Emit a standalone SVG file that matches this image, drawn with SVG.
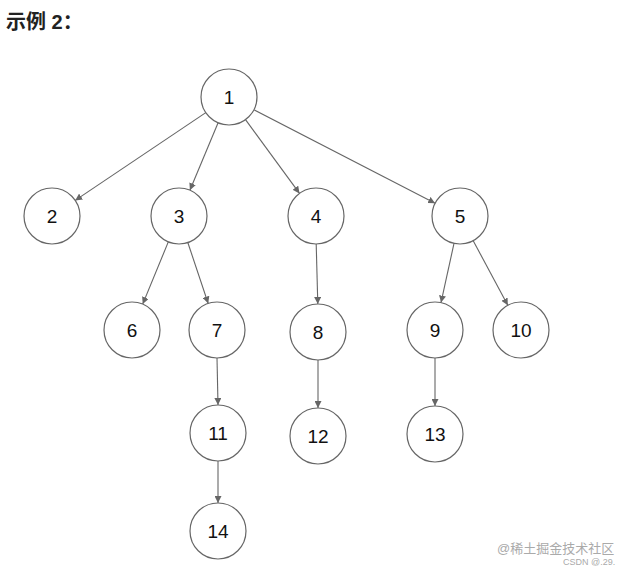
<svg xmlns="http://www.w3.org/2000/svg" width="632" height="572" viewBox="0 0 632 572">
<style>
.n circle{fill:#fff;stroke:#666;stroke-width:1.2}
.n text{font-family:"Liberation Sans",Arial,sans-serif;font-size:19px;fill:#111;text-anchor:middle;dominant-baseline:central}
#edges line{stroke:#666;stroke-width:1.1;marker-end:url(#a)}
</style>
<defs><marker id="a" viewBox="0 0 10 10" refX="10" refY="5" markerWidth="7" markerHeight="7" orient="auto" markerUnits="userSpaceOnUse"><path d="M0,0L10,5L0,10z" fill="#666"/></marker></defs>
<rect width="632" height="572" fill="#fff"/>
<text x="6" y="29" font-family="'Liberation Sans','Noto Sans CJK SC',sans-serif" font-size="20" font-weight="bold" fill="#222">示例 2：</text>
<g id="edges">
<line x1="205.8" y1="112.6" x2="75.2" y2="200.4"/>
<line x1="218.1" y1="122.8" x2="189.9" y2="190.2"/>
<line x1="245.5" y1="119.6" x2="299.5" y2="193.4"/>
<line x1="253.9" y1="109.8" x2="435.1" y2="203.2"/>
<line x1="168.3" y1="241.9" x2="142.7" y2="304.1"/>
<line x1="187.8" y1="242.5" x2="208.2" y2="303.5"/>
<line x1="316.2" y1="244" x2="317.8" y2="304"/>
<line x1="454" y1="243.4" x2="441" y2="302.6"/>
<line x1="473.2" y1="240.7" x2="507.8" y2="305.3"/>
<line x1="217" y1="358" x2="218" y2="405"/>
<line x1="318" y1="360" x2="318" y2="408"/>
<line x1="435" y1="358" x2="435" y2="406"/>
<line x1="218" y1="461" x2="218" y2="503"/>
</g>
<g id="n1" class="n"><circle cx="229" cy="97" r="28"/><text x="229" y="97">1</text></g>
<g id="n2" class="n"><circle cx="52" cy="216" r="28"/><text x="52" y="216">2</text></g>
<g id="n3" class="n"><circle cx="179" cy="216" r="28"/><text x="179" y="216">3</text></g>
<g id="n4" class="n"><circle cx="316" cy="216" r="28"/><text x="316" y="216">4</text></g>
<g id="n5" class="n"><circle cx="460" cy="216" r="28"/><text x="460" y="216">5</text></g>
<g id="n6" class="n"><circle cx="132" cy="330" r="28"/><text x="132" y="330">6</text></g>
<g id="n7" class="n"><circle cx="217" cy="330" r="28"/><text x="217" y="330">7</text></g>
<g id="n8" class="n"><circle cx="318" cy="332" r="28"/><text x="318" y="332">8</text></g>
<g id="n9" class="n"><circle cx="435" cy="330" r="28"/><text x="435" y="330">9</text></g>
<g id="n10" class="n"><circle cx="521" cy="330" r="28"/><text x="521" y="330">10</text></g>
<g id="n11" class="n"><circle cx="218" cy="433" r="28"/><text x="218" y="433">11</text></g>
<g id="n12" class="n"><circle cx="318" cy="436" r="28"/><text x="318" y="436">12</text></g>
<g id="n13" class="n"><circle cx="435" cy="434" r="28"/><text x="435" y="434">13</text></g>
<g id="n14" class="n"><circle cx="218" cy="531" r="28"/><text x="218" y="531">14</text></g>
<text x="497" y="553" font-family="'Liberation Sans','Noto Sans CJK SC',sans-serif" font-size="13" fill="#aaa">@稀土掘金技术社区</text>
<text x="563" y="565" font-family="'Liberation Sans',sans-serif" font-size="9" fill="#aaa">CSDN @.29.</text>
</svg>
